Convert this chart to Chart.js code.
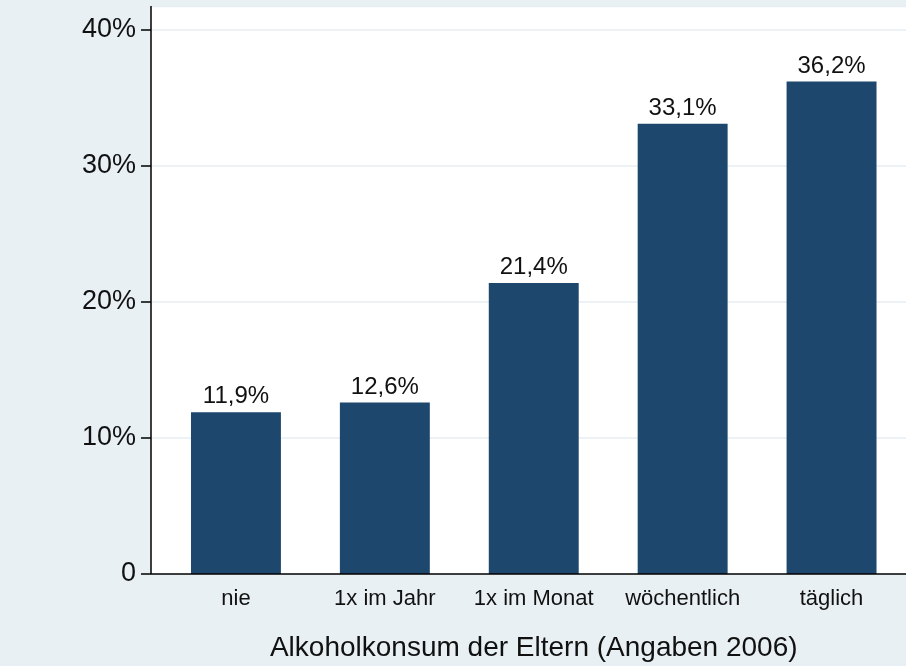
<!DOCTYPE html>
<html>
<head>
<meta charset="utf-8">
<script src="https://cdn.jsdelivr.net/npm/chart.js@4/dist/chart.umd.min.js"></script>
<style>
  html, body { margin: 0; padding: 0; background: #e8f0f3; }
  canvas { display: block; }
</style>
</head>
<body>
<canvas id="chart" width="906" height="666"></canvas>
<script>
// Alkoholkonsum der Eltern, Angaben 2006
var categories = ['nie', '1x im Jahr', '1x im Monat', 'wöchentlich', 'täglich'];
var values = [11.9, 12.6, 21.4, 33.1, 36.2];
var yTicks = [0, 10, 20, 30, 40];

var FONT = '"Liberation Sans", Arial, sans-serif';
var PLOT_LEFT = 151;   // where the y axis line sits
var gridColor = '#e6eef2';

function fmt(v) {
    return v.toFixed(1).replace('.', ',') + '%';
}

// white plot area, faint grid, y axis line and its tick marks
var plotBg = {
    id: 'plotBg',
    beforeDraw: function(chart) {
        var ctx = chart.ctx, a = chart.chartArea, y = chart.scales.y;
        ctx.save();
        ctx.fillStyle = '#ffffff';
        ctx.fillRect(PLOT_LEFT, a.top, a.right - PLOT_LEFT, a.bottom - a.top);
        ctx.strokeStyle = gridColor;
        ctx.lineWidth = 1.5;
        ctx.beginPath();
        ctx.moveTo(PLOT_LEFT, a.top + 0.5);
        ctx.lineTo(a.right, a.top + 0.5);
        yTicks.forEach(function(t) {
            if (t === 0) return;
            var py = y.getPixelForValue(t);
            ctx.moveTo(PLOT_LEFT, py);
            ctx.lineTo(a.right, py);
        });
        ctx.stroke();
        ctx.restore();
    },
    afterDraw: function(chart) {
        var ctx = chart.ctx, a = chart.chartArea, y = chart.scales.y;
        ctx.save();
        ctx.strokeStyle = '#000000';
        ctx.lineWidth = 1.5;
        ctx.beginPath();
        ctx.moveTo(PLOT_LEFT, a.top);
        ctx.lineTo(PLOT_LEFT, a.bottom);
        ctx.moveTo(PLOT_LEFT, a.bottom);
        ctx.lineTo(a.right, a.bottom);
        yTicks.forEach(function(t) {
            var py = y.getPixelForValue(t);
            ctx.moveTo(PLOT_LEFT - 10, py);
            ctx.lineTo(PLOT_LEFT, py);
        });
        ctx.stroke();
        ctx.restore();
    }
};

// percentage labels above the bars
var barLabels = {
    id: 'barLabels',
    afterDatasetsDraw: function(chart) {
        var ctx = chart.ctx;
        var meta = chart.getDatasetMeta(0);
        ctx.save();
        ctx.font = '24px ' + FONT;
        ctx.fillStyle = '#111111';
        ctx.textAlign = 'center';
        ctx.textBaseline = 'alphabetic';
        meta.data.forEach(function(bar, i) {
            ctx.fillText(fmt(values[i]), bar.x, bar.y - 9);
        });
        ctx.restore();
    }
};

function noPad(scale) {
    scale.paddingTop = 0;
    scale.paddingBottom = 0;
    scale.paddingLeft = 0;
    scale.paddingRight = 0;
}

var ctx = document.getElementById('chart').getContext('2d');
var myChart = new Chart(ctx, {
    type: 'bar',
    data: {
        labels: categories,
        datasets: [{
            data: values,
            backgroundColor: '#1e476e',
            borderWidth: 0,
            categoryPercentage: 1,
            barPercentage: 0.604
        }]
    },
    options: {
        responsive: false,
        devicePixelRatio: 1,
        animation: false,
        layout: { padding: { top: 6, right: 0, left: 0, bottom: 0 } },
        plugins: {
            legend: { display: false },
            tooltip: { enabled: false }
        },
        scales: {
            x: {
                grid: { display: false, drawTicks: false },
                border: { display: false },
                ticks: {
                    color: '#111111',
                    padding: 12,
                    maxRotation: 0,
                    font: { family: FONT, size: 22 }
                },
                title: {
                    display: true,
                    text: 'Alkoholkonsum der Eltern (Angaben 2006)',
                    color: '#111111',
                    font: { family: FONT, size: 28, lineHeight: 1.2 },
                    padding: { top: 0, bottom: 1 }
                },
                afterFit: function(scale) { scale.height = 92; noPad(scale); }
            },
            y: {
                min: 0,
                max: 41.76,
                grid: { display: false, drawTicks: false },
                border: { display: false },
                afterBuildTicks: function(scale) {
                    scale.ticks = yTicks.map(function(v) { return { value: v }; });
                },
                ticks: {
                    color: '#111111',
                    padding: 25.5,
                    font: { family: FONT, size: 27 },
                    callback: function(v) { return v === 0 ? '0' : v + '%'; }
                },
                afterFit: function(scale) { scale.width = 161.5; noPad(scale); }
            }
        }
    },
    plugins: [plotBg, barLabels]
});
</script>
</body>
</html>
